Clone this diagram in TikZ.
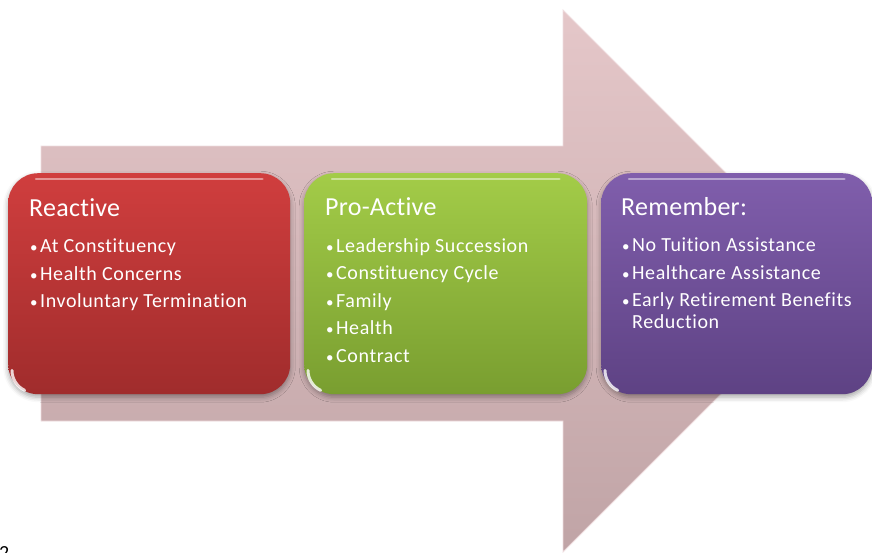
\documentclass[tikz,border=0pt]{standalone}
\usepackage{fontspec}
\setmainfont[RawFeature=-liga, LetterSpace=3]{Carlito}
\newfontfamily\ttlfont[RawFeature=-liga, LetterSpace=1]{Carlito}
\usetikzlibrary{shadows.blur}
\definecolor{arrtop}{RGB}{229,199,201}
\definecolor{arrbot}{RGB}{192,164,166}
\definecolor{redtop}{RGB}{208,62,62}
\definecolor{redbot}{RGB}{160,44,44}
\definecolor{grntop}{RGB}{163,204,72}
\definecolor{grnbot}{RGB}{121,158,48}
\definecolor{purtop}{RGB}{128,94,172}
\definecolor{purbot}{RGB}{94,66,132}
\tikzset{
  panel/.style={rounded corners=30pt, minimum width=#1, minimum height=221pt,
    inner sep=0pt, anchor=north west, blur shadow={shadow xshift=0pt, shadow yshift=-3pt, shadow blur radius=5pt, shadow opacity=35}},
  ttl/.style={anchor=base west, inner sep=0pt, text=white, font=\ttlfont\fontsize{26}{30}\selectfont},
  itm/.style={anchor=base west, inner sep=0pt, text=white, font=\fontsize{20}{24}\selectfont},
  dot/.style={anchor=base west, inner sep=0pt, text=white, font=\fontsize{15}{18}\selectfont},
  gloss/.style={white, line width=2.5pt, line cap=round, opacity=0.45},
  glare/.style={white, line width=3pt, line cap=round, opacity=0.8}
}
\begin{document}
\begin{tikzpicture}[x=1pt, y=-1pt]
\useasboundingbox (0,0) rectangle (872,552);
% big arrow
\shade[top color=arrtop, bottom color=arrbot, draw=white!40!arrtop, line width=0.8pt]
  (41,146) -- (563,146) -- (563,10) -- (834,281) -- (563,552) -- (563,421) -- (41,421) -- cycle;
% panels
\node[panel=282pt, top color=redtop, bottom color=redbot] (reactive) at (8,173) {};
\node[panel=283pt, top color=grntop, bottom color=grnbot] (proactive) at (304,173) {};
\node[panel=271pt, top color=purtop, bottom color=purbot] (remember) at (601,173) {};
% gloss highlights
\foreach \n in {reactive,proactive,remember}{
  \draw[gloss] ([xshift=28pt,yshift=-6pt]\n.north west) -- ([xshift=-28pt,yshift=-6pt]\n.north east);
  \draw[glare] ([xshift=4pt,yshift=24pt]\n.south west) arc[start angle=180, end angle=245, radius=22pt];
}
% Reactive
\node[ttl] (t1) at (29,216) {Reactive};
\foreach \i/\txt in {0/At Constituency,1/Health Concerns,2/Involuntary Termination}{
  \node[dot] at (30,252.7+27.5*\i) {•};
  \node[itm] at (40,252.7+27.5*\i) {\txt};
}
% Pro-Active
\node[ttl] (t2) at (325,215) {Pro-Active};
\foreach \i/\txt in {0/Leadership Succession,1/Constituency Cycle,2/Family,3/Health,4/Contract}{
  \node[dot] at (326,252.2+27.5*\i) {•};
  \node[itm] at (336,252.2+27.5*\i) {\txt};
}
% Remember
\node[ttl] (t3) at (621,215) {Remember:};
\foreach \i/\txt in {0/No Tuition Assistance,1/Healthcare Assistance,2/Early Retirement Benefits}{
  \node[dot] at (622,251.7+27.5*\i) {•};
  \node[itm] at (632,251.7+27.5*\i) {\txt};
}
\node[itm] at (632,328.5) {Reduction};
% page number (cut off)
\node[anchor=base west, inner sep=0pt, font=\fontsize{20}{24}\selectfont] (pg) at (-1,559) {2};
\end{tikzpicture}
\end{document}
